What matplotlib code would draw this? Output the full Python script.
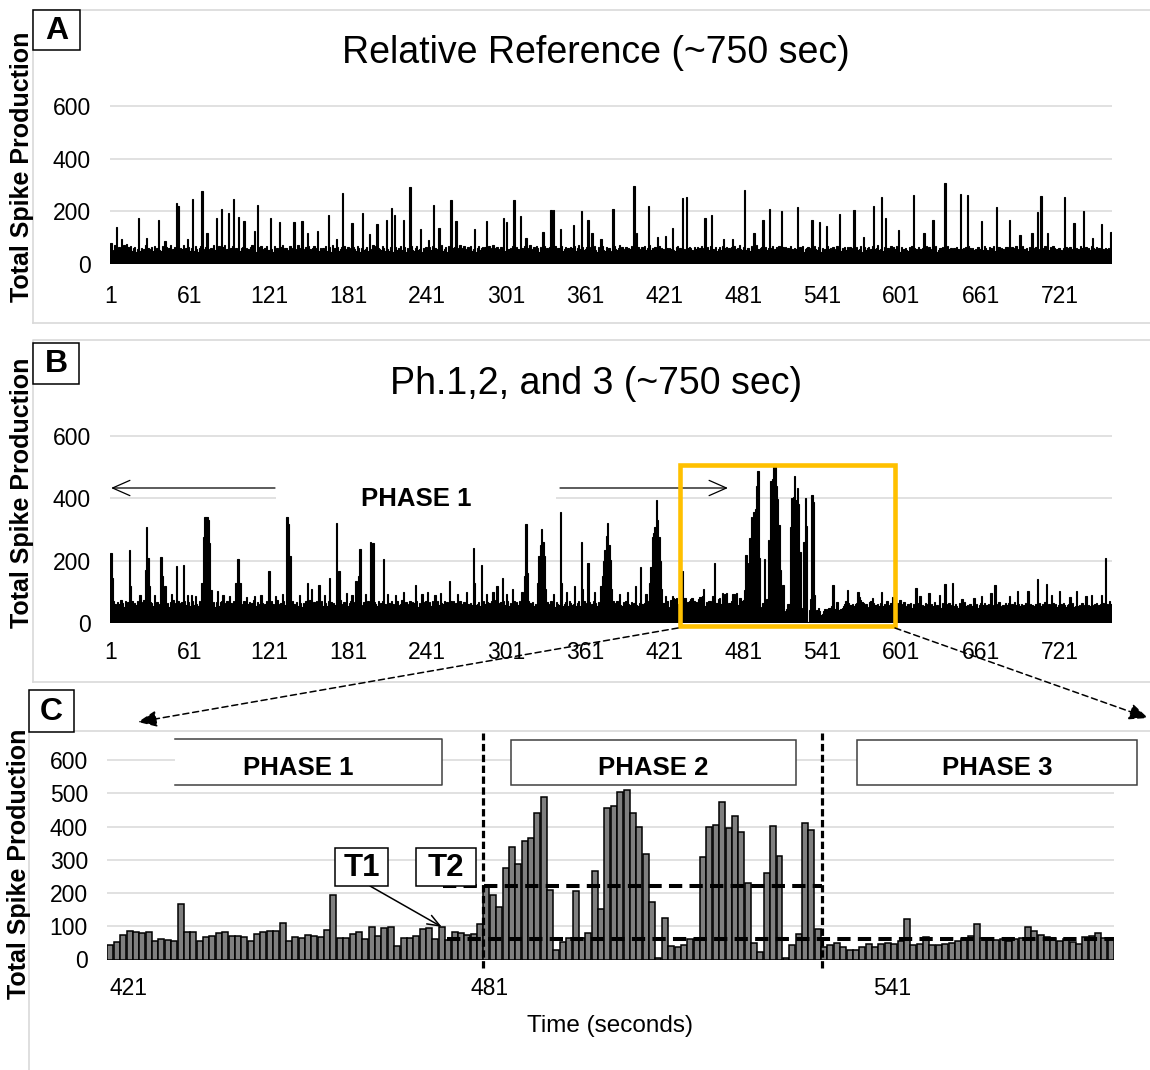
import numpy as np
import matplotlib
matplotlib.use("Agg")
import matplotlib.pyplot as plt
from matplotlib.patches import Rectangle, FancyArrowPatch
from matplotlib.lines import Line2D

plt.rcParams["font.family"] = ["Liberation Sans", "DejaVu Sans"]

W, H = 1150, 1070
GRID = "#d9d9d9"

# ---------------- data ----------------
# Panel A: relative reference, ~760 one-second bins (background + spikes)
a_base = [
    62, 48, 55, 71, 44, 58, 66, 52, 49, 60, 73, 57, 46, 63, 55, 68, 51, 59, 64, 47,
    56, 69, 50, 61, 45, 58, 74, 53, 62, 48, 57, 66, 51, 70, 46, 59, 63, 54, 49, 67,
    58, 44, 65, 52, 60, 71, 47, 56, 63, 50, 68, 55, 45, 62, 57, 72, 49, 61, 53, 66,
    48, 59, 64, 51, 70, 56, 46, 61, 67, 53, 58, 44, 63, 69, 50, 57, 62, 47, 73, 55,
    60, 52, 67, 49, 56, 63, 71, 45, 58, 64, 51, 60, 68, 54, 47, 62, 57, 70, 50, 59,
    65, 47, 55, 62, 58, 49, 66, 72, 53, 60, 45, 57, 64, 51, 69, 56, 48, 61, 67, 54,
    52, 63, 58, 46, 70, 55, 61, 49, 57, 66, 73, 50, 59, 62, 47, 55, 68, 53, 60, 64,
    57, 49, 71, 60, 54, 65, 48, 58, 63, 52, 67, 56, 45, 61, 70, 53, 59, 66, 50, 62,
    46, 61, 55, 68, 51, 59, 64, 47, 72, 56, 60, 53, 66, 49, 58, 63, 55, 69, 52, 57,
    63, 54, 60, 48, 66, 57, 51, 70, 59, 45, 62, 68, 54, 58, 65, 50, 61, 47, 56, 71,
    55, 67, 49, 62, 58, 53, 69, 60, 48, 64, 57, 51, 66, 72, 46, 59, 63, 55, 61, 50,
    68, 52, 58, 65, 47, 61, 56, 63, 70, 54, 49, 60, 67, 53, 58, 64, 45, 62, 57, 66,
    51, 59, 64, 55, 69, 48, 62, 57, 53, 66, 60, 71, 50, 56, 63, 47, 68, 58, 54, 61,
    59, 65, 47, 60, 56, 72, 52, 61, 67, 49, 58, 63, 55, 70, 51, 57, 64, 46, 62, 68,
    54, 60, 66, 50, 63, 57, 48, 69, 55, 61, 73, 52, 59, 64, 47, 58, 66, 53, 60, 49,
    67, 48, 57, 62, 54, 70, 59, 45, 63, 58, 51, 66, 61, 56, 68, 50, 55, 62, 71, 57,
    50, 63, 55, 68, 59, 47, 64, 58, 52, 69, 56, 61, 48, 65, 57, 62, 53, 70, 46, 60,
    61, 56, 70, 49, 58, 65, 53, 60, 47, 63, 59, 54, 67, 51, 62, 72, 57, 48, 64, 55,
    58, 64, 52, 59, 66, 50, 61, 69, 55, 46, 63, 57, 60, 68, 53, 49, 65, 58, 62, 51,
    47, 62, 68, 56, 53, 60, 72, 51, 64, 58, 49, 66, 55, 61, 57, 70, 52, 63, 45, 59,
    64, 51, 57, 63, 49, 67, 55, 62, 58, 71, 53, 60, 46, 65, 59, 54, 68, 50, 61, 56,
    55, 69, 60, 47, 62, 58, 65, 53, 50, 63, 67, 56, 61, 48, 70, 57, 52, 64, 59, 66,
    60, 53, 48, 66, 57, 64, 51, 59, 68, 55, 62, 47, 58, 63, 54, 69, 61, 56, 50, 65,
    49, 58, 63, 55, 70, 52, 60, 66, 47, 61, 56, 64, 53, 67, 50, 58, 62, 71, 57, 54,
    66, 57, 52, 61, 59, 48, 68, 55, 63, 50, 71, 58, 54, 62, 66, 46, 59, 63, 55, 60,
    53, 61, 67, 50, 56, 63, 57, 70, 52, 59, 64, 48, 65, 56, 61, 53, 67, 57, 49, 62,
    58, 49, 60, 64, 53, 69, 46, 58, 61, 66, 55, 62, 50, 59, 68, 57, 54, 63, 60, 47,
    62, 55, 58, 51, 67, 56, 61, 48, 65, 57, 53, 70, 59, 63, 49, 61, 56, 66, 52, 64,
    50, 64, 56, 62, 48, 60, 66, 54, 58, 69, 47, 57, 63, 52, 60, 65, 51, 58, 68, 55,
    57, 60, 71, 53, 58, 62, 50, 65, 56, 61, 59, 54, 67, 48, 63, 57, 70, 53, 60, 46,
    65, 52, 57, 60, 55, 49, 63, 58, 68, 53, 62, 56, 51, 66, 58, 50, 61, 64, 57, 69,
    54, 66, 50, 58, 63, 57, 69, 47, 55, 62, 60, 65, 53, 58, 48, 67, 56, 62, 59, 52,
    61, 48, 63, 56, 52, 66, 58, 61, 50, 64, 57, 69, 60, 46, 62, 55, 58, 51, 65, 57,
    56, 62, 54, 67, 60, 53, 48, 64, 59, 55, 68, 50, 57, 63, 66, 52, 60, 57, 49, 64,
    63, 57, 59, 51, 65, 61, 55, 68, 46, 58, 53, 62, 70, 56, 54, 61, 48, 65, 58, 60,
    52, 60, 66, 58, 49, 57, 64, 53, 62, 67, 51, 59, 55, 63, 57, 69, 62, 50, 56, 61,
    59, 55, 48, 62, 57, 63, 52, 60, 66, 54, 58, 64, 49, 61, 56, 53, 67, 59, 62, 57,
    64, 58, 61, 53, 67, 50, 59, 56, 63, 48, 60, 55, 65, 58, 52, 62, 57, 61, 54, 50,
]
a_spike_pos = [
    0, 4, 8, 12, 21, 27, 36, 41, 50, 51, 58, 62, 69, 73, 80, 84, 89, 93, 97, 101,
    109, 111, 121, 128, 139, 145, 149, 157, 165, 171, 176, 183, 191, 196, 202, 209,
    213, 215, 222, 227, 235, 241, 245, 249, 258, 262, 276, 285, 298, 300, 306, 311,
    315, 328, 334, 336, 341, 351, 357, 362, 365, 372, 381, 397, 399, 408, 415, 421,
    426, 434, 437, 451, 456, 465, 472, 481, 488, 495, 500, 509, 521, 532, 538, 543,
    553, 564, 571, 579, 585, 588, 598, 609, 617, 624, 633, 645, 650, 661, 672, 682,
    690, 699, 703, 706, 711, 724, 731, 738, 745, 752, 759,
]
a_spike_val = [
    80, 139, 95, 75, 173, 97, 166, 86, 233, 219, 95, 248, 276, 118, 175, 209, 194, 247, 177, 165,
    124, 223, 175, 158, 161, 162, 118, 127, 187, 95, 270, 156, 194, 115, 153, 168,
    213, 187, 166, 292, 133, 92, 225, 137, 244, 162, 133, 162, 175, 158, 244, 181,
    99, 122, 206, 204, 133, 149, 200, 168, 118, 95, 209, 295, 118, 222, 103, 105,
    137, 251, 254, 175, 187, 95, 95, 282, 118, 166, 209, 201, 216, 168, 158, 146,
    191, 206, 103, 219, 253, 175, 130, 263, 118, 168, 308, 266, 263, 162, 216, 166,
    111, 118, 197, 257, 118, 253, 156, 203, 100, 152, 122,
]

# Panel C: zoomed window, per phase
c_phase1 = [
    45, 53, 74, 87, 82, 79, 82, 56, 62, 60, 56, 166, 82, 82, 56, 68, 71, 79, 82, 70,
    70, 67, 57, 78, 83, 85, 86, 110, 56, 69, 66, 73, 71, 68, 89, 193, 66, 66, 78, 82,
    61, 98, 70, 94, 98, 42, 66, 64, 70, 93, 95, 62, 98, 60, 82, 80, 73, 76, 108,
]
c_phase2 = [
    220, 193, 159, 274, 339, 287, 357, 366, 440, 489, 208, 28, 52, 64, 205, 64, 79, 266,
    152, 457, 463, 503, 510, 440, 397, 316, 172, 5, 124, 41, 37, 45, 63, 62, 307, 400,
    404, 473, 396, 433, 382, 229, 49, 22, 261, 402, 312, 5, 43, 77, 410, 389, 92,
]
c_phase3 = [
    37, 43, 49, 39, 28, 30, 38, 46, 38, 47, 50, 48, 57, 122, 45, 47, 68, 44, 44, 47,
    49, 55, 62, 70, 108, 64, 58, 58, 63, 57, 62, 66, 99, 85, 74, 68, 66, 57, 62, 53,
    47, 68, 72, 80, 64, 60,
]
c_tick_labels = ["421", "481", "541"]
c_tick_pos = [2.9, 59.5, 122.7]
t_levels = [63, 220]          # T1, T2 thresholds
t_start = 52.5                # threshold lines start here (bar index)
t1_target = 52                # bar pointed at by T1 arrow

# Panel B: full recording; the window of panel C sits at bins 423..580
b_left_base = [
    66, 58, 72, 61, 54, 69, 63, 75, 57, 64, 52, 70, 59, 67, 62, 55, 73, 60, 65, 58,
    71, 56, 63, 68, 59, 74, 52, 66, 61, 57, 69, 64, 55, 72, 60, 67, 58, 63, 76, 54,
    62, 70, 57, 65, 53, 68, 61, 74, 56, 66, 59, 71, 64, 52, 67, 60, 73, 58, 62, 69,
    55, 64, 72, 59, 66, 61, 57, 70, 63, 54, 68, 75, 58, 65, 62, 56, 71, 60, 67, 53,
    69, 60, 54, 67, 73, 58, 64, 56, 70, 62, 59, 66, 52, 71, 63, 57, 68, 74, 55, 61,
    58, 72, 65, 53, 62, 69, 57, 64, 75, 60, 56, 68, 63, 51, 70, 65, 59, 62, 73, 57,
    64, 55, 70, 62, 58, 67, 74, 53, 61, 66, 57, 72, 60, 65, 54, 69, 62, 58, 71, 63,
    60, 68, 56, 73, 64, 52, 66, 61, 70, 57, 63, 75, 59, 54, 67, 62, 71, 56, 64, 69,
    73, 57, 62, 66, 55, 71, 60, 68, 53, 64, 58, 70, 65, 61, 74, 52, 63, 67, 59, 72,
    56, 65, 71, 58, 63, 69, 54, 62, 67, 73, 60, 55, 68, 64, 57, 70, 61, 53, 66, 59,
    67, 61, 55, 70, 59, 64, 72, 57, 63, 52, 69, 66, 58, 71, 62, 56, 65, 73, 60, 54,
    62, 74, 58, 63, 68, 55, 61, 70, 56, 67, 64, 59, 72, 53, 66, 60, 57, 69, 63, 71,
    57, 63, 69, 54, 72, 61, 66, 58, 73, 60, 55, 65, 62, 70, 58, 67, 53, 64, 71, 59,
    70, 59, 64, 67, 56, 73, 52, 63, 69, 57, 71, 61, 54, 66, 60, 72, 65, 58, 62, 68,
    54, 66, 60, 71, 62, 58, 68, 64, 55, 70, 59, 63, 74, 57, 65, 61, 69, 56, 73, 60,
    63, 71, 57, 65, 60, 54, 70, 62, 67, 59, 73, 56, 64, 69, 53, 62, 58, 71, 66, 57,
    68, 56, 62, 59, 74, 64, 57, 66, 61, 72, 55, 68, 60, 63, 71, 58, 64, 52, 67, 62,
    59, 67, 73, 56, 61, 68, 63, 54, 70, 65, 58, 62, 69, 55, 64, 72, 57, 66, 60, 73,
    65, 60, 58, 69, 55, 62, 71, 59, 64, 57, 68, 53, 66, 61, 74, 56, 63, 70, 58, 64,
    61, 73, 56, 64, 70, 58, 65, 60, 55, 67, 62, 71, 57, 63, 59, 69, 54, 65, 72, 60,
    57, 64, 68, 61, 59, 66, 53, 72, 62, 58, 70, 64, 60, 56, 67, 63, 71, 55, 62, 66,
    64, 59, 70,
]
b_right_base = [
    58, 62, 54, 66, 50, 57, 63, 55, 68, 52, 60, 64, 49, 58, 61, 56, 65, 51, 59, 63,
    53, 67, 57, 50, 62, 58, 65, 48, 61, 56, 63, 52, 66, 59, 54, 60, 57, 64, 50, 62,
    59, 51, 63, 57, 68, 53, 60, 55, 62, 49, 66, 58, 52, 61, 56, 64, 59, 50, 63, 57,
    62, 55, 49, 65, 58, 61, 53, 67, 56, 60, 51, 63, 57, 54, 66, 59, 62, 48, 58, 64,
    50, 60, 66, 53, 59, 62, 56, 64, 49, 58, 63, 55, 61, 67, 52, 57, 60, 54, 65, 58,
    64, 57, 52, 61, 55, 68, 59, 50, 63, 57, 62, 53, 58, 66, 51, 60, 56, 63, 59, 54,
    56, 63, 59, 48, 64, 57, 61, 55, 67, 52, 59, 62, 50, 58, 65, 56, 61, 53, 60, 57,
    61, 54, 65, 58, 51, 60, 63, 56, 59, 66, 53, 57, 62, 55, 60, 49, 64, 58, 54, 61,
    55, 60, 57, 63, 59, 52, 62, 66, 54, 58, 61, 56, 64, 50, 59, 62, 57, 55, 63,
]
b_spike_pos = [
    0, 1, 8, 14, 15, 22, 26, 27, 28, 29, 33, 38, 39, 41, 46, 50, 55, 58, 61, 64,
    69, 70, 71, 72, 73, 74, 75, 76, 81, 85, 90, 95, 96, 97, 98, 103, 109, 114, 120, 125,
    130, 133, 134, 135, 136, 143, 149, 152, 158, 162, 166, 171, 173, 179, 183, 186, 188, 189, 193, 197,
    199, 207, 210, 216, 222, 231, 236, 240, 246, 250, 257, 263, 270, 275, 276, 281, 285, 290, 293, 297,
    300, 305, 312, 314, 315, 316, 324, 325, 326, 327, 328, 329, 330, 336, 341, 342, 346, 352, 357, 358,
    362, 367, 372, 373, 374, 375, 376, 377, 378, 379, 380, 386, 392, 398, 402, 406, 409, 410, 411, 412,
    413, 414, 415, 416, 417, 418, 421,
    585, 589, 593, 599, 611, 614, 621, 629, 633, 639, 646, 655, 661, 668, 671, 682, 688, 696, 703, 710,
    714, 720, 728, 733, 740, 744, 752, 755, 758,
]
b_spike_val = [
    225, 144, 75, 235, 120, 90, 171, 308, 210, 120, 91, 212, 150, 118, 95, 184, 187, 90, 91, 88,
    128, 278, 342, 342, 340, 330, 257, 107, 102, 90, 88, 128, 205, 205, 128, 85, 86, 90, 166, 88,
    95, 340, 340, 318, 214, 90, 128, 109, 123, 90, 144, 321, 166, 96, 90, 137, 150, 238, 95, 262,
    257, 205, 95, 90, 100, 123, 95, 100, 90, 98, 134, 95, 100, 241, 130, 187, 95, 100, 120, 144,
    95, 110, 100, 150, 319, 160, 130, 214, 250, 302, 260, 214, 110, 95, 358, 130, 100, 118, 261, 110,
    193, 100, 120, 150, 200, 235, 280, 321, 250, 203, 110, 95, 100, 120, 180, 95, 128, 180, 276, 290,
    310, 394, 330, 278, 200, 110, 86,
    99, 70, 83, 75, 114, 86, 98, 91, 126, 128, 77, 80, 89, 96, 123, 86, 102, 102, 141, 126,
    90, 104, 85, 104, 88, 91, 91, 209, 70,
]
ab_tick_secs = [1, 61, 121, 181, 241, 301, 361, 421, 481, 541, 601, 661, 721]

# assemble series
a_vals = np.array(a_base, dtype=float)
a_vals[a_spike_pos] = a_spike_val
c_vals = np.array(c_phase1 + c_phase2 + c_phase3, dtype=float)
b_vals = np.concatenate([b_left_base, c_vals, b_right_base]).astype(float)
b_vals[b_spike_pos] = b_spike_val

# ---------------- figure ----------------
fig = plt.figure(figsize=(W / 100, H / 100), dpi=100)
fig.patch.set_facecolor("white")


def fxy(x, y):
    return (x / W, 1 - y / H)


def make_axes(x0, x1, n, y_zero, y_600, ymax=608):
    s = (y_zero - y_600) / 600.0
    top = y_zero - ymax * s
    ax = fig.add_axes([x0 / W, 1 - y_zero / H, (x1 - x0) / W, (y_zero - top) / H])
    ax.set_xlim(-0.5, n - 0.5)
    ax.set_ylim(0, ymax)
    for sp in ax.spines.values():
        sp.set_visible(False)
    ax.tick_params(length=0, labelsize=16.5, colors="black")
    ax.yaxis.grid(True, color=GRID, lw=1.1)
    ax.set_axisbelow(True)
    ax.axhline(0, color="#bfbfbf", lw=1.0, zorder=0.6)
    ax.patch.set_alpha(0)
    return ax


def fig_line(xs, ys, **kw):
    fig.add_artist(Line2D([x / W for x in xs], [1 - y / H for y in ys],
                          transform=fig.transFigure, **kw))


def fig_box(x0, y0, x1, y1, **kw):
    fig.add_artist(Rectangle((x0 / W, 1 - y1 / H), (x1 - x0) / W, (y1 - y0) / H,
                             transform=fig.transFigure, **kw))


def fig_text(x, y, s, **kw):
    fig.text(x / W, 1 - y / H, s, ha="center", va="center", **kw)


def fig_arrow(x0, y0, x1, y1, style, **kw):
    fig.add_artist(FancyArrowPatch(fxy(x0, y0), fxy(x1, y1), transform=fig.transFigure,
                                   arrowstyle=style, mutation_scale=10,
                                   shrinkA=0, shrinkB=0, **kw))


# panel frames (light gray)
fig_line([33, 33, 1150], [323, 10, 10], color=GRID, lw=1.2)
fig_line([33, 1150], [323, 323], color=GRID, lw=1.2)
fig_line([33, 33, 1150], [682, 340, 340], color=GRID, lw=1.2)
fig_line([33, 1150], [682, 682], color=GRID, lw=1.2)
fig_line([29, 29, 1150], [1070, 731, 731], color=GRID, lw=1.2)

n_ab = len(a_vals)
x_ab = np.arange(n_ab)
ab_tick_pos = [s - 1 for s in ab_tick_secs]

# ---- Panel A ----
ax_a = make_axes(110.3, 1111.6, n_ab, 264, 106)
ax_a.bar(x_ab, a_vals, width=1.0, color="black", edgecolor="black", linewidth=0.8)
ax_a.set_yticks([0, 200, 400, 600])
ax_a.set_xticks(ab_tick_pos, [str(s) for s in ab_tick_secs])
ax_a.tick_params(axis="y", pad=14)
ax_a.tick_params(axis="x", pad=15)

# ---- Panel B ----
ax_b = make_axes(110.3, 1111.6, n_ab, 623.3, 436)
ax_b.bar(x_ab, b_vals, width=1.0, color="black", edgecolor="black", linewidth=0.8)
ax_b.set_yticks([0, 200, 400, 600])
ax_b.set_xticks(ab_tick_pos, [str(s) for s in ab_tick_secs])
ax_b.tick_params(axis="y", pad=14)
ax_b.tick_params(axis="x", pad=13)
# white label area behind "PHASE 1" (hides the gridline)
ax_b.add_patch(Rectangle((276 / W, 1 - 519 / H), (556 - 276) / W, (519 - 472) / H,
                         transform=fig.transFigure, facecolor="white", edgecolor="none",
                         zorder=0.8, clip_on=False))

# ---- Panel C ----
n_c = len(c_vals)
x_c = np.arange(n_c)
ax_c = make_axes(107.3, 1114, n_c, 959.5, 760)
ax_c.bar(x_c, c_vals, width=0.94, color="#7f7f7f", edgecolor="black", linewidth=1.1)
ax_c.set_yticks([0, 100, 200, 300, 400, 500, 600])
ax_c.set_xticks(c_tick_pos, c_tick_labels)
ax_c.tick_params(axis="y", pad=14)
ax_c.tick_params(axis="x", pad=12.5)

b1 = len(c_phase1) - 0.5
b2 = len(c_phase1) + len(c_phase2) - 0.4
for xb in (b1, b2):
    ax_c.plot([xb, xb], [-26, 682], color="black", lw=2.3, ls=(0, (2.3, 1.1)),
              clip_on=False, zorder=4)
ax_c.plot([t_start - 0.3, b2], [t_levels[1]] * 2, color="black", lw=2.9,
          ls=(0, (3.3, 1.8)), zorder=4)
ax_c.plot([t_start + 0.3, n_c - 0.5], [t_levels[0]] * 2, color="black", lw=2.9,
          ls=(0, (3.3, 1.8)), zorder=4)

# phase label boxes in panel C
fig_box(175, 739, 441.5, 784.5, facecolor="white", edgecolor="none", zorder=3)
fig_line([175, 441.5, 441.5, 175], [739, 739, 784.5, 784.5], color="#404040", lw=1.1, zorder=3.1)
fig_box(510.5, 740, 795.5, 785, facecolor="white", edgecolor="#404040", lw=1.1, zorder=3)
fig_box(857, 740, 1137, 785, facecolor="white", edgecolor="#404040", lw=1.1, zorder=3)
fig_text(298, 768, "PHASE 1", fontsize=18.5, fontweight="bold", zorder=4)
fig_text(653, 768, "PHASE 2", fontsize=18.5, fontweight="bold", zorder=4)
fig_text(997, 768, "PHASE 3", fontsize=18.5, fontweight="bold", zorder=4)

# T1 / T2 markers
fig_box(335, 848, 388, 886, facecolor="white", edgecolor="black", lw=1.1, zorder=3)
fig_box(416, 848, 476, 886, facecolor="white", edgecolor="black", lw=1.1, zorder=3)
fig_text(361.5, 868.5, "T1", fontsize=22.5, fontweight="bold", zorder=4)
fig_text(446, 868.5, "T2", fontsize=22.5, fontweight="bold", zorder=4)
ax_c.annotate("", xy=(t1_target, c_vals[t1_target]), xycoords="data",
              xytext=fxy(370, 886), textcoords="figure fraction",
              arrowprops=dict(arrowstyle="->,head_length=0.9,head_width=0.35",
                              lw=1.1, color="black", shrinkA=0, shrinkB=0),
              zorder=5)

# ---- annotations in panel B ----
fig_arrow(275, 488, 111, 488, "->,head_length=1.25,head_width=0.55", lw=0.9, color="black")
fig_arrow(560, 488, 728, 488, "->,head_length=1.25,head_width=0.55", lw=0.9, color="black")
fig_text(416, 499, "PHASE 1", fontsize=18.5, fontweight="bold")
fig_box(680, 465, 895, 625.5, fill=False, edgecolor="#FFC000", lw=3.3, zorder=3)
fig_arrow(678, 628, 138, 722, "-|>,head_length=1.15,head_width=0.5", lw=1.1,
          color="black", linestyle=(0, (4, 2.5)), zorder=3)
fig_arrow(895, 628, 1148, 718, "-|>,head_length=1.15,head_width=0.5", lw=1.1,
          color="black", linestyle=(0, (4, 2.5)), zorder=3)

# ---- titles, letters, axis labels ----
fig_text(596, 53, "Relative Reference (~750 sec)", fontsize=27)
fig_text(596, 384, "Ph.1,2, and 3 (~750 sec)", fontsize=27)
for (x0, y0, x1, y1, letter) in [(33, 10, 80, 50, "A"), (33, 343, 79, 384, "B"),
                                 (29, 690, 74, 732, "C")]:
    fig_box(x0, y0, x1, y1, facecolor="white", edgecolor="black", lw=1.1, zorder=3)
    fig_text((x0 + x1) / 2, (y0 + y1) / 2 + 1, letter, fontsize=23, fontweight="bold", zorder=4)

for (yc, xc) in [(167, 22), (493, 22), (864, 19)]:
    fig_text(xc, yc, "Total Spike Production", fontsize=18, fontweight="bold", rotation=90)
fig_text(610, 1026, "Time (seconds)", fontsize=17.5)

fig.savefig("out.png", dpi=100)
